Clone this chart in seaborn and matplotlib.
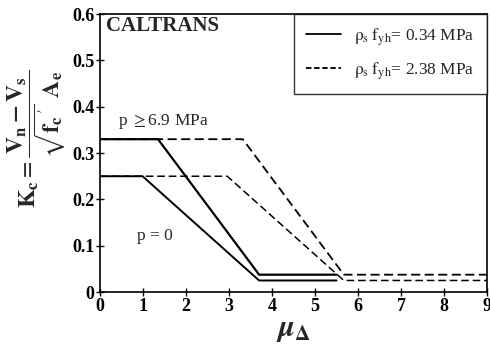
import matplotlib
matplotlib.use("Agg")
import matplotlib.pyplot as plt
import seaborn as sns
import pandas as pd
from matplotlib.lines import Line2D

# Breakpoints of the shear-strength factor curves (ductility vs Kc)
mu_solid_high = [0.0, 1.35, 3.70, 5.50]
kc_solid_high = [0.33, 0.33, 0.0375, 0.0375]
mu_solid_low = [0.0, 0.99, 3.70, 5.50]
kc_solid_low = [0.25, 0.25, 0.025, 0.025]
mu_dash_high = [0.0, 3.32, 5.67, 9.0]
kc_dash_high = [0.33, 0.33, 0.0375, 0.0375]
mu_dash_low = [0.0, 2.96, 5.67, 9.0]
kc_dash_low = [0.25, 0.25, 0.025, 0.025]

x_ticks = [0, 1, 2, 3, 4, 5, 6, 7, 8, 9]
y_ticks = [0, 0.1, 0.2, 0.3, 0.4, 0.5, 0.6]
y_tick_labels = ["0", "0.1", "0.2", "0.3", "0.4", "0.5", "0.6"]
legend_labels = [r"$\mathrm{\rho_s\; f_{yh}}$= 0.34 MPa", r"$\mathrm{\rho_s\; f_{yh}}$= 2.38 MPa"]

sns.set_style("ticks")
plt.rcParams["font.family"] = ["Liberation Serif", "DejaVu Serif"]
plt.rcParams["mathtext.fontset"] = "stix"

fig = plt.figure(figsize=(4.9, 3.44), dpi=100)
ax = fig.add_axes([0.204, 0.151, 0.790, 0.808])

curves = [
    (mu_dash_high, kc_dash_high, "dash", 1.3),
    (mu_dash_low, kc_dash_low, "dash", 1.1),
    (mu_solid_high, kc_solid_high, "solid", 1.6),
    (mu_solid_low, kc_solid_low, "solid", 1.4),
]
for mu, kc, kind, lw in curves:
    df = pd.DataFrame({"mu": mu, "kc": kc})
    if kind == "solid":
        sns.lineplot(data=df, x="mu", y="kc", ax=ax, color="black",
                     linewidth=lw, sort=False, estimator=None)
    else:
        sns.lineplot(data=df, x="mu", y="kc", ax=ax, color="black",
                     linewidth=lw, sort=False, estimator=None,
                     dashes=False, linestyle=(0, (5, 2.5)))

ax.set_xlim(0, 9)
ax.set_ylim(0, 0.6)
ax.set_xticks(x_ticks)
ax.set_xticklabels([str(t) for t in x_ticks], fontsize=13, fontweight="bold")
ax.set_yticks(y_ticks)
ax.set_yticklabels(y_tick_labels, fontsize=13, fontweight="bold")
ax.tick_params(direction="inout", length=6, width=1, pad=1, colors="black")
for s in ax.spines.values():
    s.set_visible(True)
    s.set_color("black")
    s.set_linewidth(1.2)

ax.set_xlabel(r"$\boldsymbol{\mu}_{\boldsymbol{\Delta}}$", fontsize=22, labelpad=0)
ax.set_ylabel(r"$\mathbf{K_c} = \dfrac{\mathbf{V_n - V_s}}{\sqrt{\mathbf{f_c}^{\,\prime}}\;\, \mathbf{A_e}}$",
              fontsize=17)
ax.yaxis.set_label_coords(-0.085, 0.55)

ax.text(0.15, 0.575, "CALTRANS", fontsize=15, fontweight="bold", va="center", ha="left")
ax.text(0.42, 0.368, r"p $\geq$6.9 MPa", fontsize=12.5, va="center", ha="left")
ax.text(0.85, 0.12, "p = 0", fontsize=12.5, va="center", ha="left")

handles = [Line2D([], [], color="black", linewidth=1.3),
           Line2D([], [], color="black", linewidth=1.3, linestyle=(0, (3, 1.5)))]
leg = ax.legend(handles, legend_labels, loc="upper right", fontsize=12.5,
                frameon=True, fancybox=False, handlelength=2.0, borderpad=0.7,
                labelspacing=0.7, borderaxespad=0.0, handletextpad=0.8)
leg.get_frame().set_edgecolor("black")
leg.get_frame().set_linewidth(1.0)

fig.savefig("out.png", dpi=100)
